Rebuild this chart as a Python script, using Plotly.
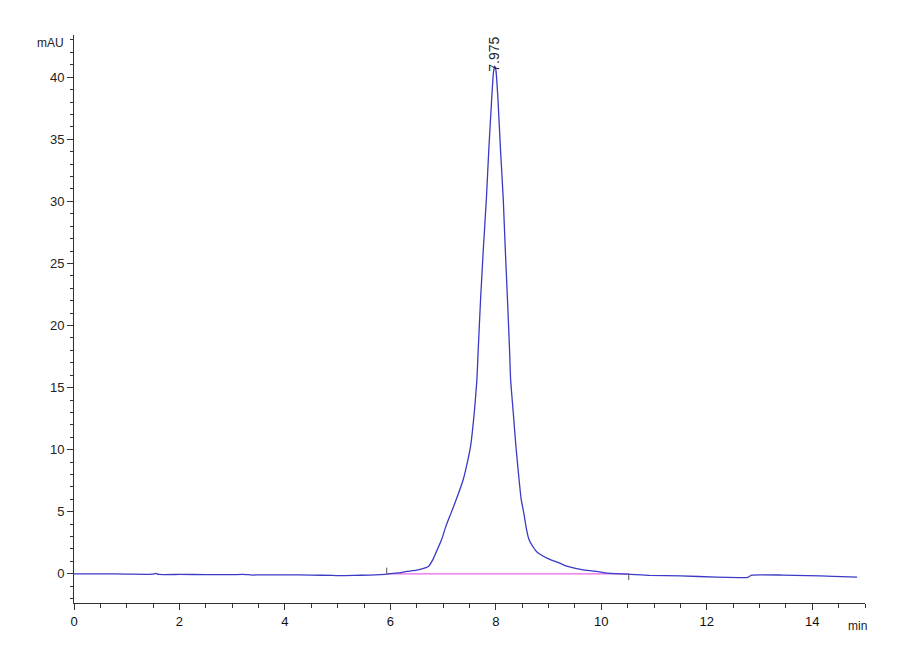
import plotly.graph_objects as go

# chromatogram trace (min, mAU)
time_min = [0.0, 0.5, 1.0, 1.5, 1.55, 1.6, 2.0, 2.5, 3.0, 3.2, 3.4, 3.5, 4.0, 4.5,
            4.9, 5.1, 5.3, 5.6, 5.9, 6.0, 6.2, 6.31, 6.5, 6.72, 6.8, 6.86, 6.97,
            7.05, 7.15, 7.25, 7.38, 7.45, 7.52, 7.59, 7.64, 7.67, 7.71, 7.76,
            7.82, 7.87, 7.92, 7.95, 7.975, 8.0, 8.04, 8.09, 8.14, 8.18, 8.22,
            8.26, 8.28, 8.33, 8.38, 8.44, 8.48, 8.53, 8.58, 8.63, 8.7, 8.77,
            8.83, 9.0, 9.21, 9.34, 9.66, 9.97, 10.1, 10.5, 10.92, 11.5, 12.18,
            12.62, 12.78, 12.85, 13.44, 13.9, 14.4, 14.85]
signal_mau = [0.0, 0.0, -0.02, -0.03, 0.03, -0.05, -0.05, -0.06, -0.07, -0.04,
              -0.1, -0.08, -0.08, -0.1, -0.13, -0.15, -0.13, -0.1, -0.05, 0.02,
              0.1, 0.19, 0.3, 0.59, 1.1, 1.67, 2.74, 3.8, 4.89, 6.0, 7.58, 8.8,
              10.27, 12.96, 15.6, 18.5, 22.1, 26.0, 30.2, 34.5, 38.2, 40.2, 40.9,
              40.6, 38.2, 34.0, 30.2, 26.0, 22.1, 18.0, 15.6, 12.96, 10.27, 7.58,
              6.0, 4.89, 3.6, 2.74, 2.2, 1.8, 1.6, 1.2, 0.86, 0.62, 0.32, 0.15,
              0.05, -0.02, -0.13, -0.16, -0.27, -0.3, -0.28, -0.1, -0.1, -0.14,
              -0.2, -0.27]

peak_rt = 7.975
peak_height = 40.9
peak_label = "7.975"
baseline_start = 5.93
baseline_end = 10.52
baseline_level = 0.0

x_ticks = [0, 2, 4, 6, 8, 10, 12, 14]
y_ticks = [0, 5, 10, 15, 20, 25, 30, 35, 40]

line_col = "#3a3ac4"
text_col = "#222222"

fig = go.Figure()

fig.add_trace(go.Scatter(
    x=[baseline_start, baseline_end],
    y=[baseline_level, baseline_level],
    mode="lines",
    line=dict(color="#ee66ee", width=1.2),
    hoverinfo="skip",
))

fig.add_trace(go.Scatter(
    x=time_min,
    y=signal_mau,
    mode="lines",
    line=dict(color=line_col, width=1.3, shape="spline", smoothing=0.4),
    name="signal",
))

# integration start / end markers
fig.add_shape(type="line", x0=baseline_start, x1=baseline_start,
              y0=baseline_level, y1=baseline_level + 0.5,
              line=dict(color="#555555", width=1))
fig.add_shape(type="line", x0=baseline_end, x1=baseline_end,
              y0=baseline_level, y1=baseline_level - 0.5,
              line=dict(color="#555555", width=1))

fig.add_annotation(x=peak_rt, y=peak_height + 0.95, text=peak_label,
                   textangle=-90, showarrow=False, yanchor="middle",
                   font=dict(size=14, color=text_col))

fig.add_annotation(xref="paper", yref="paper", x=-0.01, y=0.986, text="mAU",
                   showarrow=False, xanchor="right", yanchor="middle",
                   font=dict(size=12, color=text_col))
fig.add_annotation(xref="paper", yref="paper", x=0.99, y=-0.04, text="min",
                   showarrow=False, xanchor="center", yanchor="middle",
                   font=dict(size=12, color=text_col))

# the page body adds an 8px offset, so margins are shifted to compensate
fig.update_layout(
    width=900,
    height=660,
    margin=dict(l=66, r=43, t=27, b=65),
    plot_bgcolor="white",
    paper_bgcolor="white",
    showlegend=False,
    font=dict(family="Liberation Sans, Arial, sans-serif", size=12, color=text_col),
)

fig.update_xaxes(
    range=[0, 15.0],
    tickvals=x_ticks,
    showgrid=False,
    zeroline=False,
    showline=True,
    linecolor="#333333",
    linewidth=1,
    ticks="outside",
    ticklen=6,
    tickcolor="#333333",
    minor=dict(dtick=0.5, ticks="outside", ticklen=4, tickcolor="#333333"),
    tickfont=dict(size=13, color="#111111"),
)

fig.update_yaxes(
    range=[-2.35, 43.4],
    tickvals=y_ticks,
    showgrid=False,
    zeroline=False,
    showline=True,
    linecolor="#333333",
    linewidth=1,
    ticks="outside",
    ticklen=6,
    tickcolor="#333333",
    minor=dict(dtick=1, ticks="outside", ticklen=3, tickcolor="#333333"),
    tickfont=dict(size=13),
)

fig.write_html("out.html")
